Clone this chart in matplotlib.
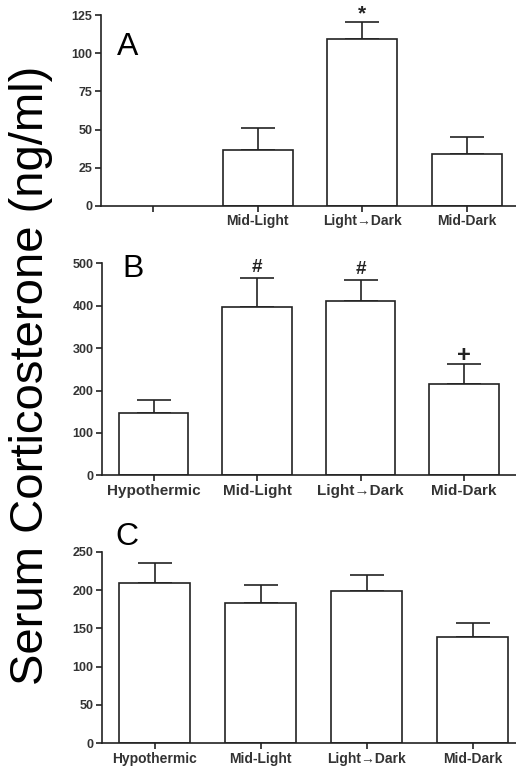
import numpy as np
import matplotlib.pyplot as plt

plt.rcParams['font.family'] = ['Liberation Sans', 'DejaVu Sans']

# categories and tick labels
cats = ['Hypothermic', 'Mid-Light', 'Light\u2192Dark', 'Mid-Dark']
cats_a = ['', 'Mid-Light', 'Light\u2192Dark', 'Mid-Dark']

# panel A (no hypothermic group)
mean_a = [np.nan, 36.4, 109.3, 34.0]
err_a = [np.nan, 14.6, 11.1, 11.4]
# panel B
mean_b = [147, 398, 412, 215]
err_b = [30, 68, 49, 48]
# panel C
mean_c = [209, 183, 199, 139]
err_c = [26, 24, 21, 18]

# significance marks
marks_a = ['', '', '*', '']
marks_b = ['', '#', '#', '+']

W, H = 516, 771
fig = plt.figure(figsize=(W / 100, H / 100), dpi=100)

def px_axes(left, right, top, bottom):
    return fig.add_axes([left / W, 1 - bottom / H, (right - left) / W, (bottom - top) / H])

ink = '#222222'

def panel(ax, means, errs, labels, ymax, ystep, xfs, marks=None, mark_sizes=None, mark_pad=None):
    x = np.arange(len(labels))
    ax.bar(x, means, width=0.67, color='white', edgecolor=ink, linewidth=1.2, zorder=2)
    ax.errorbar(x, means, yerr=[np.zeros(len(errs)), errs], fmt='none', ecolor=ink,
                elinewidth=1.2, capsize=12.5, capthick=1.2, zorder=1)
    ax.set_xlim(-0.5, 3.5)
    ax.set_ylim(0, ymax)
    ax.set_yticks(np.arange(0, ymax + 1, ystep))
    ax.set_xticks(x)
    ax.set_xticklabels(labels, fontweight='bold', fontsize=xfs, color='#333333')
    for t in ax.get_yticklabels():
        t.set_fontweight('bold')
        t.set_fontsize(9)
        t.set_color('#333333')
    for s in ['top', 'right']:
        ax.spines[s].set_visible(False)
    for s in ['left', 'bottom']:
        ax.spines[s].set_linewidth(1.2)
        ax.spines[s].set_color(ink)
    ax.tick_params(axis='both', length=4, width=1.2, color=ink, pad=2)
    ax.patch.set_alpha(0)
    if marks:
        for i, m in enumerate(marks):
            if m:
                ax.annotate(m, (x[i], means[i] + errs[i]), xytext=(0, mark_pad[m]),
                            textcoords='offset points', ha='center', va='bottom',
                            fontsize=mark_sizes[m], fontweight='bold', color=ink)

ax_a = px_axes(100.6, 519.5, 15, 206)
panel(ax_a, mean_a, err_a, cats_a, 125, 25, 10, marks_a, {'*': 15}, {'*': -1})

ax_b = px_axes(101.9, 515.9, 263.3, 475.3)
panel(ax_b, mean_b, err_b, cats, 500, 100, 11, marks_b, {'#': 13.5, '+': 17}, {'#': 1.5, '+': -2})

ax_c = px_axes(101.5, 525.5, 551.7, 743.3)
panel(ax_c, mean_c, err_c, cats, 250, 50, 10)

# panel letters
fig.text(117 / W, 1 - 55 / H, 'A', fontsize=23, color='black', va='baseline')
fig.text(122 / W, 1 - 277 / H, 'B', fontsize=23, color='black', va='baseline')
fig.text(115 / W, 1 - 545 / H, 'C', fontsize=23, color='black', va='baseline')

fig.text(31 / W, 1 - 375 / H, 'Serum Corticosterone (ng/ml)', rotation=90,
         fontsize=34, ha='center', va='center', color='black')

fig.savefig('out.png', dpi=100)
